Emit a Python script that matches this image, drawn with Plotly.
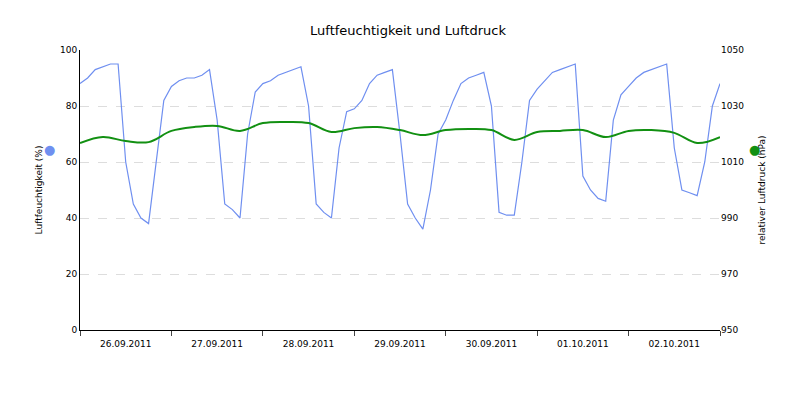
import plotly.graph_objects as go
import pandas as pd

days = ["2011-09-26","2011-09-27","2011-09-28","2011-09-29","2011-09-30","2011-10-01","2011-10-02"]
hum_by_day = [
    [88,90,93,94,95,95,60,45,40,38,60,82],
    [87,89,90,90,91,93,75,45,43,40,70,85],
    [88,89,91,92,93,94,80,45,42,40,65,78],
    [79,82,88,91,92,93,70,45,40,36,50,70],
    [75,82,88,90,91,92,80,42,41,41,60,82],
    [86,89,92,93,94,95,55,50,47,46,75,84],
    [87,90,92,93,94,95,65,50,49,48,60,80],
]
hum_end = 88
pressure = [1016.8,1018.9,1017.5,1017.1,1021.1,1022.5,1022.9,1021.1,1023.9,1024.3,1023.9,1020.7,
            1022.1,1022.5,1021.4,1019.6,1021.4,1021.8,1021.4,1017.9,1020.7,1021.1,1021.4,1018.9,
            1021.1,1021.4,1020.4,1016.8,1018.9]

hx = []
hy = []
for d, vals in zip(days, hum_by_day):
    base = pd.Timestamp(d)
    for i, v in enumerate(vals):
        hx.append(base + pd.Timedelta(hours=2*i)); hy.append(v)
hx.append(pd.Timestamp("2011-10-03")); hy.append(hum_end)
px_ = [pd.Timestamp("2011-09-26") + pd.Timedelta(hours=6*i) for i in range(len(pressure))]

fig = go.Figure()
fig.add_trace(go.Scatter(x=hx, y=hy, mode="lines", line=dict(color="#6f8ff0", width=1.2), name="Luftfeuchtigkeit"))
fig.add_trace(go.Scatter(x=px_, y=pressure, mode="lines", line=dict(color="#129012", width=2, shape="spline"), yaxis="y2", name="Luftdruck"))

f = dict(family="DejaVu Sans", size=10, color="#000")
fig.update_layout(
    width=800, height=400, showlegend=False, plot_bgcolor="white", paper_bgcolor="white",
    margin=dict(l=72, r=88, t=42, b=78),
    title=dict(text="Luftfeuchtigkeit und Luftdruck", x=0.5, y=0.955, xanchor="center", font=dict(family="DejaVu Sans", size=13)),
    font=f,
    xaxis=dict(type="date", range=["2011-09-26", "2011-10-03"], dtick=86400000, tick0="2011-09-26",
               ticklabelmode="period", tickformat="%d.%m.%Y", ticks="outside", ticklen=5,
               showline=True, linecolor="#000", showgrid=False, tickfont=dict(size=9)),
    yaxis=dict(range=[0, 100], dtick=20, showgrid=True, gridcolor="#ddd", griddash="dash",
               showline=True, linecolor="#000", zeroline=False,
               title=dict(text="Luftfeuchtigkeit (%)", font=dict(size=9)), tickfont=dict(size=9)),
    yaxis2=dict(range=[950, 1050], tick0=950, dtick=20, overlaying="y", side="right", showgrid=False,
                showline=False, zeroline=False,
                title=dict(text="relativer Luftdruck (hPa)", font=dict(size=9)), tickfont=dict(size=9)),
)
fig.add_annotation(x=0, y=0.68, xref="paper", yref="paper", xshift=-38, text="●", showarrow=False, font=dict(color="#6f8ff0", size=13))
fig.add_annotation(x=1, y=0.68, xref="paper", yref="paper", xshift=42, text="●", showarrow=False, font=dict(color="#129012", size=13))
fig.write_html("out.html")
